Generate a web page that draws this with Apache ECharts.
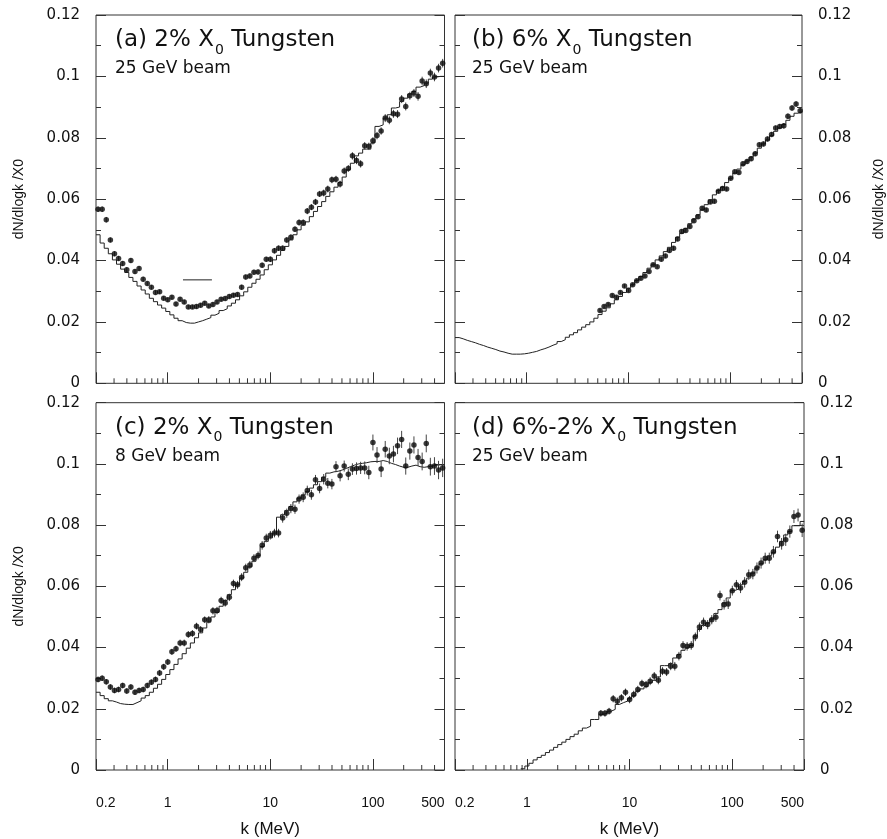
<!DOCTYPE html>
<html><head><meta charset="utf-8">
<script src="https://cdn.jsdelivr.net/npm/echarts@6/dist/echarts.min.js"></script>
<style>html,body{margin:0;padding:0;background:#fff}#c{width:887px;height:839px}</style>
</head><body><div id="c"></div>
<script>
// Bin edges (MeV), 25 log bins per decade from 0.2 MeV
const kEdges = [0.2000,0.2193,0.2405,0.2637,0.2891,0.3170,0.3476,0.3811,0.4179,0.4582,0.5024,0.5508,0.6040,0.6623,0.7262,0.7962,0.8730,0.9573,1.0496,1.1509,1.2619,1.3837,1.5172,1.6635,1.8240,
2.000,2.193,2.405,2.637,2.891,3.170,3.476,3.811,4.179,4.582,5.024,5.508,6.040,6.623,7.262,7.962,8.730,9.573,10.496,11.509,12.619,13.837,15.172,16.635,18.240,
20.00,21.93,24.05,26.37,28.91,31.70,34.76,38.11,41.79,45.82,50.24,55.08,60.40,66.23,72.62,79.62,87.30,95.73,104.96,115.09,126.19,138.37,151.72,166.35,182.40,
200.0,219.3,240.5,263.7,289.1,317.0,347.6,381.1,417.9,458.2,502.4];

const xRange = [0.2, 500];
const xMinorTicks = [0.3,0.4,0.5,0.6,0.7,0.8,0.9,2,3,4,5,6,7,8,9,20,30,40,50,60,70,80,90,200,300,400];
const yRange = [0, 0.12];
const yLabelStep = 0.02;

const panelTitles = ['(a) 2% X', '(b) 6% X', '(c) 2% X', '(d) 6%-2% X'];
const panelSub = ['0', '0', '0', '0'];
const panelTitleTail = [' Tungsten', ' Tungsten', ' Tungsten', ' Tungsten'];
const panelBeams = ['25 GeV beam', '25 GeV beam', '8 GeV beam', '25 GeV beam'];
const yName = 'dN/dlogk /X0';
const xName = 'k (MeV)';

// (a) 2% X0, 25 GeV
const ptsA = [0.0567,0.0567,0.0533,0.0467,0.0422,0.0407,0.0390,0.0370,0.0400,0.0364,
0.0374,0.0339,0.0325,0.0313,0.0296,0.0298,0.0277,0.0272,0.0280,0.0258,
0.0274,0.0265,0.0249,0.0249,0.0250,0.0254,0.0261,0.0252,0.0257,0.0265,
0.0274,0.0276,0.0283,0.0287,0.0289,0.0313,0.0346,0.0350,0.0362,0.0363,
0.0385,0.0404,0.0404,0.0432,0.0440,0.0440,0.0467,0.0476,0.0502,0.0524,
0.0524,0.0561,0.0574,0.0591,0.0617,0.0620,0.0633,0.0663,0.0665,0.0649,
0.0692,0.0700,0.0741,0.0726,0.0715,0.0774,0.0772,0.0790,0.0807,0.0822,
0.0864,0.0857,0.0878,0.0877,0.0926,0.0902,0.0937,0.0946,0.0935,0.0985,
0.0976,0.1011,0.0998,0.1027,0.1043];
const errA = [0.0009,0.0009,0.0009,0.0008,0.0008,0.0008,0.0008,0.0008,0.0008,0.0008,
0.0008,0.0008,0.0007,0.0007,0.0007,0.0007,0.0007,0.0007,0.0007,0.0007,
0.0007,0.0007,0.0007,0.0007,0.0007,0.0007,0.0007,0.0007,0.0007,0.0007,
0.0007,0.0007,0.0007,0.0007,0.0007,0.0008,0.0008,0.0008,0.0008,0.0008,
0.0008,0.0008,0.0009,0.0009,0.0009,0.0009,0.0009,0.0009,0.0009,0.0010,
0.0010,0.0010,0.0010,0.0010,0.0010,0.0011,0.0011,0.0011,0.0011,0.0011,
0.0011,0.0011,0.0012,0.0012,0.0012,0.0012,0.0012,0.0012,0.0012,0.0012,
0.0013,0.0013,0.0013,0.0013,0.0013,0.0013,0.0013,0.0013,0.0014,0.0014,
0.0014,0.0014,0.0014,0.0014,0.0014];
const histA = [0.0484,0.0457,0.0440,0.0422,0.0402,0.0388,0.0372,0.0361,0.0345,0.0332,
0.0317,0.0304,0.0291,0.0277,0.0266,0.0255,0.0245,0.0234,0.0223,0.0212,
0.0204,0.0198,0.0196,0.0196,0.0200,0.0204,0.0209,0.0214,0.0222,0.0228,
0.0237,0.0243,0.0252,0.0261,0.0272,0.0285,0.0298,0.0313,0.0326,0.0339,
0.0353,0.0370,0.0386,0.0402,0.0417,0.0433,0.0446,0.0467,0.0484,0.0500,
0.0515,0.0526,0.0543,0.0560,0.0576,0.0592,0.0609,0.0624,0.0639,0.0654,
0.0672,0.0696,0.0717,0.0741,0.0750,0.0763,0.0763,0.0783,0.0837,0.0842,
0.0864,0.0875,0.0897,0.0900,0.0918,0.0929,0.0943,0.0951,0.0965,0.0970,
0.0978,0.0991,0.0998,0.1000,0.1000];
const segAk = [1.41, 2.70];
const segAy = [0.0337, 0.0337];

// (b) 6% X0, 25 GeV (points from bin 35)
const startB = 35;
const ptsB = [0.0237,0.0250,0.0257,0.0286,0.0280,0.0296,0.0317,0.0302,0.0321,0.0334,
0.0342,0.0350,0.0364,0.0386,0.0380,0.0404,0.0415,0.0433,0.0440,0.0470,
0.0495,0.0498,0.0511,0.0530,0.0543,0.0570,0.0565,0.0591,0.0593,0.0626,
0.0635,0.0633,0.0668,0.0689,0.0687,0.0715,0.0723,0.0732,0.0748,0.0777,
0.0780,0.0796,0.0811,0.0832,0.0837,0.0839,0.0870,0.0897,0.0910,0.0888];
const errB = [0.0006,0.0006,0.0006,0.0006,0.0006,0.0006,0.0006,0.0006,0.0006,0.0006,
0.0006,0.0006,0.0006,0.0006,0.0006,0.0007,0.0007,0.0007,0.0007,0.0007,
0.0007,0.0007,0.0007,0.0007,0.0007,0.0007,0.0007,0.0007,0.0007,0.0007,
0.0007,0.0007,0.0007,0.0007,0.0007,0.0008,0.0008,0.0008,0.0008,0.0008,
0.0008,0.0008,0.0008,0.0008,0.0008,0.0009,0.0009,0.0009,0.0009,0.0009];
const histB = [0.0149,0.0145,0.0140,0.0136,0.0132,0.0127,0.0123,0.0118,0.0114,0.0110,
0.0105,0.0102,0.0098,0.0095,0.0095,0.0095,0.0096,0.0098,0.0101,0.0104,
0.0109,0.0113,0.0118,0.0124,0.0129,0.0136,0.0142,0.0150,0.0158,0.0165,
0.0174,0.0183,0.0191,0.0200,0.0212,0.0224,0.0235,0.0246,0.0259,0.0272,
0.0283,0.0296,0.0310,0.0321,0.0335,0.0348,0.0361,0.0375,0.0386,0.0402,
0.0415,0.0429,0.0443,0.0459,0.0476,0.0489,0.0505,0.0520,0.0535,0.0549,
0.0565,0.0582,0.0598,0.0614,0.0628,0.0639,0.0654,0.0668,0.0685,0.0698,
0.0712,0.0724,0.0737,0.0750,0.0766,0.0780,0.0793,0.0807,0.0821,0.0832,
0.0843,0.0857,0.0870,0.0880,0.0885];

// (c) 2% X0, 8 GeV
const ptsC = [0.0296,0.0300,0.0288,0.0271,0.0260,0.0263,0.0276,0.0258,0.0271,0.0254,
0.0260,0.0263,0.0276,0.0287,0.0296,0.0317,0.0337,0.0353,0.0386,0.0396,
0.0415,0.0415,0.0443,0.0446,0.0470,0.0459,0.0491,0.0491,0.0520,0.0521,
0.0554,0.0546,0.0564,0.0609,0.0605,0.0630,0.0661,0.0670,0.0692,0.0701,
0.0734,0.0758,0.0767,0.0774,0.0774,0.0823,0.0839,0.0854,0.0852,0.0885,
0.0891,0.0913,0.0899,0.0948,0.0920,0.0950,0.0937,0.0934,0.0991,0.0961,
0.0993,0.0966,0.0983,0.0985,0.0987,0.0987,0.0972,0.1070,0.1029,0.0983,
0.1048,0.1026,0.1032,0.1059,0.1080,0.0993,0.1042,0.1062,0.1021,0.1008,
0.1067,0.0991,0.0993,0.0980,0.0987];
const errC = [0.0009,0.0009,0.0009,0.0009,0.0009,0.0009,0.0009,0.0009,0.0009,0.0009,
0.0009,0.0009,0.0009,0.0009,0.0009,0.0010,0.0010,0.0010,0.0010,0.0010,
0.0011,0.0011,0.0011,0.0011,0.0011,0.0011,0.0011,0.0012,0.0012,0.0012,
0.0012,0.0012,0.0012,0.0013,0.0013,0.0013,0.0013,0.0013,0.0013,0.0013,
0.0014,0.0014,0.0014,0.0014,0.0014,0.0015,0.0015,0.0015,0.0015,0.0015,
0.0016,0.0016,0.0016,0.0016,0.0016,0.0017,0.0017,0.0017,0.0018,0.0018,
0.0018,0.0019,0.0019,0.0020,0.0020,0.0021,0.0022,0.0026,0.0026,0.0026,
0.0027,0.0027,0.0027,0.0027,0.0028,0.0028,0.0028,0.0028,0.0028,0.0029,
0.0029,0.0029,0.0029,0.0030,0.0030];
const histC = [0.0254,0.0243,0.0233,0.0226,0.0222,0.0217,0.0215,0.0214,0.0214,0.0220,
0.0226,0.0235,0.0243,0.0254,0.0267,0.0280,0.0296,0.0312,0.0328,0.0345,
0.0363,0.0380,0.0398,0.0415,0.0432,0.0448,0.0464,0.0483,0.0500,0.0515,
0.0535,0.0554,0.0573,0.0589,0.0605,0.0627,0.0646,0.0663,0.0682,0.0700,
0.0730,0.0747,0.0758,0.0774,0.0826,0.0834,0.0848,0.0861,0.0876,0.0888,
0.0899,0.0910,0.0921,0.0932,0.0942,0.0957,0.0970,0.0974,0.0976,0.0980,
0.0985,0.0991,0.0996,0.1000,0.1002,0.1004,0.1007,0.1008,0.1008,0.1011,
0.1008,0.1002,0.0998,0.0993,0.0989,0.0989,0.0993,0.0996,0.0991,0.0989,
0.0991,0.0993,0.0996,0.0997,0.0997];

// (d) 6%-2% X0, 25 GeV (points from bin 35, simulation from bin 16)
const startD = 35;
const ptsD = [0.0185,0.0185,0.0192,0.0233,0.0225,0.0236,0.0254,0.0230,0.0247,0.0263,
0.0283,0.0279,0.0290,0.0307,0.0293,0.0323,0.0320,0.0339,0.0339,0.0372,
0.0407,0.0404,0.0407,0.0435,0.0467,0.0483,0.0475,0.0491,0.0499,0.0570,
0.0540,0.0542,0.0586,0.0605,0.0595,0.0613,0.0638,0.0640,0.0660,0.0676,
0.0692,0.0692,0.0713,0.0763,0.0739,0.0752,0.0779,0.0828,0.0833,0.0783];
const errD = [0.0011,0.0011,0.0011,0.0012,0.0012,0.0012,0.0012,0.0012,0.0012,0.0012,
0.0012,0.0012,0.0013,0.0013,0.0013,0.0013,0.0013,0.0013,0.0014,0.0014,
0.0014,0.0014,0.0014,0.0014,0.0015,0.0015,0.0015,0.0015,0.0015,0.0016,
0.0016,0.0016,0.0016,0.0016,0.0017,0.0017,0.0017,0.0017,0.0018,0.0018,
0.0018,0.0018,0.0019,0.0019,0.0019,0.0020,0.0020,0.0021,0.0021,0.0022];
const histStartD = 16;
const histD = [0.0004,0.0013,0.0022,0.0033,0.0041,0.0048,0.0057,0.0065,0.0074,0.0083,
0.0091,0.0100,0.0109,0.0117,0.0128,0.0137,0.0143,0.0165,0.0165,0.0182,
0.0185,0.0192,0.0198,0.0214,0.0220,0.0225,0.0233,0.0243,0.0258,0.0265,
0.0272,0.0285,0.0293,0.0304,0.0341,0.0341,0.0348,0.0366,0.0377,0.0391,
0.0399,0.0407,0.0437,0.0459,0.0472,0.0480,0.0493,0.0511,0.0524,0.0546,
0.0562,0.0586,0.0591,0.0605,0.0616,0.0627,0.0643,0.0660,0.0674,0.0687,
0.0700,0.0711,0.0728,0.0747,0.0768,0.0779,0.0798,0.0798,0.0812];

// ---------- build ----------
const F = "'Liberation Sans', Arial, Helvetica, sans-serif";
const FW = "'DejaVu Sans', Verdana, sans-serif";
const TXT = '#111';
const AX = '#333';
const centers = kEdges.slice(0, -1).map((e, i) => Math.sqrt(e * kEdges[i + 1]));

const panels = [
  {pts: ptsA, err: errA, start: 0, hist: histA, histStart: 0},
  {pts: ptsB, err: errB, start: startB, hist: histB, histStart: 0},
  {pts: ptsC, err: errC, start: 0, hist: histC, histStart: 0},
  {pts: ptsD, err: errD, start: startD, hist: histD, histStart: histStartD}
];

const grids = [
  {left: 96, top: 15, width: 348.5, height: 368.3},
  {left: 455, top: 15, width: 349, height: 368.3},
  {left: 96, top: 402.7, width: 348.5, height: 367.8},
  {left: 455, top: 402.7, width: 349, height: 367.8}
];

const option = {
  animation: false,
  backgroundColor: '#fff',
  grid: grids.map(g => Object.assign({show: true, borderColor: AX, borderWidth: 1, backgroundColor: 'transparent'}, g)),
  title: [],
  xAxis: [],
  yAxis: [],
  series: []
};

grids.forEach((g, i) => {
  const isRight = i % 2 === 1;
  const isBottom = i >= 2;
  option.title.push({
    left: g.left + (isRight ? 17 : 19), top: g.top + 8, padding: 0,
    text: '{t|' + panelTitles[i] + '}{s|' + panelSub[i] + '}{t|' + panelTitleTail[i] + '}',
    textStyle: {fontWeight: 'normal', rich: {
      t: {fontSize: 23, fontFamily: FW, color: TXT, fontWeight: 'normal'},
      s: {fontSize: 14, fontFamily: FW, color: TXT, fontWeight: 'normal', padding: [20, 0, 0, 1]}
    }}
  });
  option.title.push({
    left: g.left + (isRight ? 17 : 19), top: g.top + 45, padding: 0,
    text: panelBeams[i],
    textStyle: {fontSize: 17, fontFamily: FW, color: TXT, fontWeight: 'normal'}
  });
  option.xAxis.push({
    type: 'log', logBase: 10, gridIndex: i, min: xRange[0], max: xRange[1],
    axisLine: {show: false}, splitLine: {show: false},
    axisTick: {show: true, inside: true, length: 11, lineStyle: {color: AX}},
    axisLabel: {show: isBottom, fontSize: 14, fontFamily: F, color: TXT, margin: 26,
      showMinLabel: true, showMaxLabel: true, alignMinLabel: 'left', alignMaxLabel: 'right',
      formatter: v => String(+(+v).toPrecision(3))},
    name: isBottom ? xName : '', nameLocation: 'middle', nameGap: 51,
    nameTextStyle: {fontSize: 17, fontFamily: F, color: TXT}
  });
  const showName = !(isRight && isBottom);
  const labeled = {
    type: 'value', gridIndex: i, position: isRight ? 'right' : 'left',
    min: yRange[0], max: yRange[1], interval: yLabelStep,
    axisLine: {show: false}, splitLine: {show: false},
    axisTick: {show: true, inside: true, length: 10, lineStyle: {color: AX}},
    minorTick: {show: true, splitNumber: 2, length: 5, lineStyle: {color: AX}},
    axisLabel: {show: true, fontSize: 15, fontFamily: FW, color: TXT, margin: 16},
    name: showName ? yName : '', nameLocation: 'middle', nameRotate: 90, nameGap: 70,
    nameTextStyle: {fontSize: 14, fontFamily: F, color: TXT}
  };
  const other = {
    type: 'value', gridIndex: i, position: isRight ? 'left' : 'right',
    min: yRange[0], max: yRange[1], interval: yLabelStep,
    axisLine: {show: false}, splitLine: {show: false},
    axisTick: {show: true, inside: true, length: 10, lineStyle: {color: AX}},
    minorTick: {show: true, splitNumber: 2, length: 5, lineStyle: {color: AX}},
    axisLabel: {show: false}
  };
  option.yAxis.push(labeled, other);
  const yi = 2 * i;
  const p = panels[i];

  // minor x ticks
  option.series.push({
    type: 'custom', xAxisIndex: i, yAxisIndex: yi, silent: true, clip: false,
    data: xMinorTicks.map(v => [v, yRange[0]]),
    renderItem: (params, api) => {
      const c = api.coord([api.value(0), yRange[0]]);
      return {type: 'line', shape: {x1: c[0], y1: c[1], x2: c[0], y2: c[1] - 5},
        style: {stroke: AX, lineWidth: 1}};
    }
  });

  // simulation histogram
  const hd = p.hist.map((v, j) => [kEdges[p.histStart + j], v]);
  hd.push([kEdges[p.histStart + p.hist.length], p.hist[p.hist.length - 1]]);
  option.series.push({
    type: 'line', xAxisIndex: i, yAxisIndex: yi, step: 'end', data: hd,
    symbol: 'none', silent: true, clip: true,
    lineStyle: {color: '#222', width: 1}, z: 2
  });

  // error bars
  option.series.push({
    type: 'custom', xAxisIndex: i, yAxisIndex: yi, silent: true,
    data: p.pts.map((v, j) => [centers[p.start + j], v - p.err[j], v + p.err[j]]),
    encode: {x: 0, y: [1, 2]},
    renderItem: (params, api) => {
      const x = api.value(0);
      const a = api.coord([x, api.value(1)]);
      const b = api.coord([x, api.value(2)]);
      return {type: 'line', shape: {x1: a[0], y1: a[1], x2: b[0], y2: b[1]},
        style: {stroke: '#444', lineWidth: 1}};
    },
    z: 3
  });

  // data points
  option.series.push({
    type: 'scatter', xAxisIndex: i, yAxisIndex: yi, silent: true,
    data: p.pts.map((v, j) => [centers[p.start + j], v]),
    symbol: 'circle', symbolSize: 5.5, itemStyle: {color: '#0a0a0a'}, z: 4
  });
});

// short segment in panel (a)
option.series.push({
  type: 'line', xAxisIndex: 0, yAxisIndex: 0, silent: true,
  data: segAk.map((k, j) => [k, segAy[j]]), symbol: 'none',
  lineStyle: {color: '#222', width: 1}
});

const chart = echarts.init(document.getElementById('c'), null, {renderer: 'canvas'});
chart.setOption(option);
</script>
</body></html>
